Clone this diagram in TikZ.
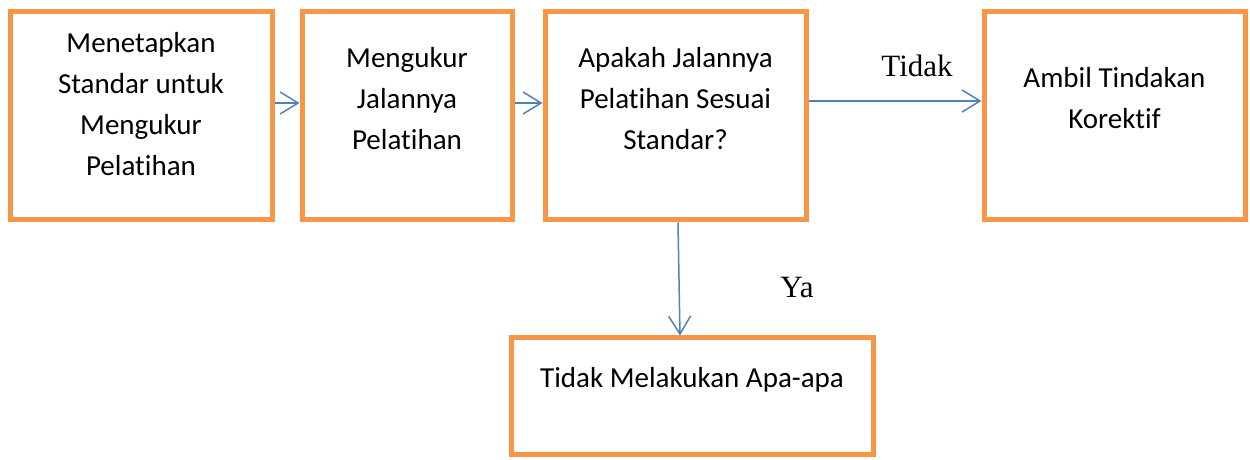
\documentclass[tikz,border=0pt]{standalone}
\usepackage{fontspec}
\setmainfont{Carlito}[Ligatures=NoCommon]
\newfontfamily\labelfont{Liberation Serif}
\usetikzlibrary{arrows.meta}
\definecolor{boxorange}{HTML}{F79646}
\definecolor{arrowblue}{HTML}{4F81BD}
\tikzset{
    stepbox/.style={draw=boxorange, line width=2.5pt, align=center, inner sep=0pt,
        font=\fontsize{14.5}{20.5}\selectfont, minimum height=104pt},
    flow/.style={->, >={Straight Barb[length=9pt, width=11pt]}, draw=arrowblue, line width=0.75pt},
    answer/.style={font=\labelfont\fontsize{15.5}{18}\selectfont}
}
\begin{document}
\begin{tikzpicture}[x=0.5pt, y=-0.5pt]
    \useasboundingbox (0, 0) rectangle (1250, 460);
    \node[stepbox, minimum width=131pt, text depth=12pt] (standar) at (141, 116) {Menetapkan\\Standar untuk\\Mengukur\\Pelatihan};
    \node[stepbox, minimum width=105pt, text depth=18pt] (ukur) at (407, 116) {Mengukur\\Jalannya\\Pelatihan};
    \node[stepbox, minimum width=130.5pt, text depth=18pt] (sesuai) at (675.5, 116) {Apakah Jalannya\\Pelatihan Sesuai\\Standar?};
    \node[stepbox, minimum width=130.5pt, text depth=18pt] (korektif) at (1114.5, 116) {Ambil Tindakan\\Korektif};
    \node[stepbox, minimum width=181pt, minimum height=58pt, text depth=19pt] (diam) at (692, 396) {Tidak Melakukan Apa-apa};
    \draw[flow] (standar.east |- 0, 103) -- (ukur.west |- 0, 103);
    \draw[flow] (ukur.east |- 0, 103) -- (sesuai.west |- 0, 103);
    \draw[flow] (sesuai.east |- 0, 101) -- (korektif.west |- 0, 101);
    \draw[flow] (sesuai.south -| 678, 0) -- (diam.north -| 680, 0);
    \node[answer] (tidak) at (917, 66) {Tidak};
    \node[answer] (ya) at (797, 288) {Ya};
\end{tikzpicture}
\end{document}
